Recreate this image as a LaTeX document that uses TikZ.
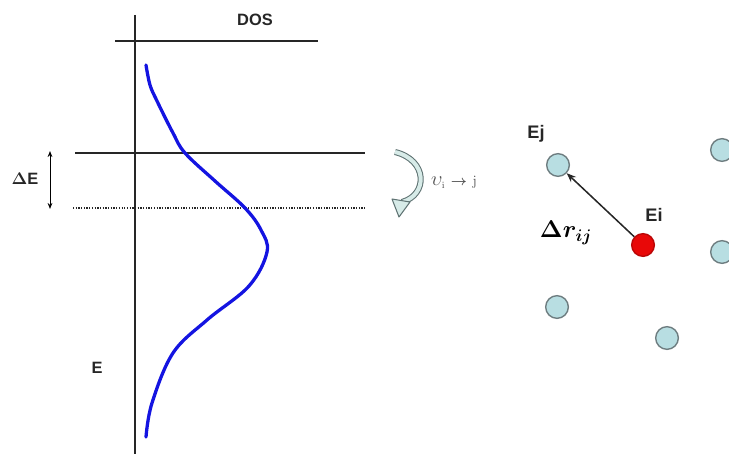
\documentclass[tikz,border=0pt]{standalone}
\usepackage[no-math]{fontspec}
\setsansfont{Liberation Sans}
\usepackage{bm}
\usetikzlibrary{arrows.meta,calc}
\definecolor{doscurve}{RGB}{20,20,225}
\definecolor{sitefill}{RGB}{184,222,226}
\definecolor{siteedge}{RGB}{110,125,128}
\definecolor{hopred}{RGB}{232,8,8}
\definecolor{curlgray}{RGB}{95,115,115}
\definecolor{curlfill}{RGB}{215,235,232}
\tikzset{
  doslbl/.style={font=\sffamily\bfseries\fontsize{14}{16}\selectfont, text=black!85, inner sep=1pt},
  sitelbl/.style={doslbl, font=\sffamily\bfseries\fontsize{15.5}{17}\selectfont},
  dosaxis/.style={line width=1.3pt, draw=black!85},
  doslevel/.style={line width=1.4pt, draw=black!85},
  dosdotted/.style={line width=1.5pt, draw=black!85, dash pattern=on 1.1pt off 1.2pt},
  doscurvestyle/.style={line width=2.8pt, draw=doscurve, line cap=round},
  site/.style={circle, draw=siteedge, fill=sitefill, line width=1.2pt, minimum size=0.68cm, inner sep=0pt},
  sitehop/.style={site, draw=hopred!80!black, fill=hopred},
  hoparr/.style={-{Stealth[length=2.8mm,width=2.2mm]}, line width=1.3pt, draw=black!85},
  dearr/.style={{Stealth[length=1.8mm,width=1.4mm]}-{Stealth[length=1.8mm,width=1.4mm]}, line width=0.8pt},
  curl/.style={draw=curlgray, line width=0.9pt, double=curlfill, double distance=3.4pt},
}

\begin{document}
\begin{tikzpicture}[x=0.03cm, y=-0.03cm]
    \useasboundingbox (0,0) rectangle (729,454);
    \clip (0,0) rectangle (729,454);

    % density of states panel
    \coordinate (axtop) at (135,15);
    \coordinate (axbot) at (135,454);
    \draw[dosaxis] (axtop) -- (axbot);
    \draw[doslevel] (115,41) -- (318,41);
    \draw[doslevel] (75,153) -- (365,153);
    \draw[dosdotted] (73,208) -- (365,208);

    \draw[doscurvestyle] plot[smooth, tension=0.6] coordinates {
      (146,65) (150,85) (157,101) (173,133) (185,153) (215,181) (245,208)
      (261,230) (267,252) (249,286) (207,320) (173,353) (152,403) (146,437)};

    \node[doslbl] (dos) at (255,20) {DOS};
    \node[doslbl] (elbl) at (97,368) {E};
    \node[doslbl] (delbl) at (25,179) {$\mathbf{\Delta}$E};
    \coordinate (detop) at (50,151);
    \coordinate (debot) at (50,209);
    \draw[dearr] (detop) -- (debot);

    % hopping rate
    \coordinate (curla) at (395,152);
    \coordinate (curlb) at (402,202);
    \draw[curl] (curla) .. controls (428,160) and (428,195) .. (curlb);
    \fill[curlfill, draw=curlgray, line width=0.9pt, line join=round]
      (392,199) -- (410,202) -- (399,217) -- cycle;
    \node[text=black!70, inner sep=1pt] (rate) at (454,182)
      {\fontsize{17}{18}\selectfont$\upsilon_{\scriptscriptstyle\mathrm{i}}\;{\scriptstyle\bm{\rightarrow}}\;{\scriptstyle\mathrm{j}}$};

    % sites
    \node[sitehop] (ei) at (643,245) {};
    \node[site] (ej) at (558,165) {};
    \node[site] (s1) at (722,150) {};
    \node[site] (s2) at (722,252) {};
    \node[site] (s3) at (557,307) {};
    \node[site] (s4) at (667,338) {};

    \draw[hoparr] (ei) -- (ej);

    \node[sitelbl] (ejlbl) at (536,134) {Ej};
    \node[sitelbl] (eilbl) at (654,215) {Ei};
    \node[inner sep=1pt] (dr) at (566,233) {\fontsize{20}{22}\selectfont$\mathbf{\Delta}\bm{r}_{\bm{ij}}$};
  \end{tikzpicture}
\end{document}
